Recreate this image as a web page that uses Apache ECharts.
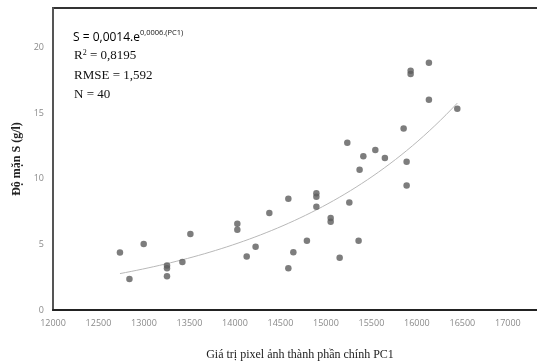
<!DOCTYPE html>
<html>
<head>
<meta charset="utf-8">
<script src="https://cdn.jsdelivr.net/npm/echarts@6/dist/echarts.min.js"></script>
<style>
  html, body { margin: 0; padding: 0; background: #fff; }
  #chart { width: 537px; height: 361px; }
</style>
</head>
<body>
<div id="chart"></div>
<script>
// PC1 pixel value and salinity S (g/l)
const pc1 = [12736, 12840, 12997, 13253, 13253, 13253, 13422, 13510, 14026, 14026,
  14129, 14227, 14378, 14587, 14587, 14642, 14791, 14895, 14895, 14895,
  15052, 15052, 15151, 15235, 15257, 15359, 15370, 15411, 15543, 15648,
  15854, 15887, 15887, 15931, 15931, 16132, 16132, 16444]
const salinity = [4.37, 2.37, 5.02, 3.38, 3.18, 2.57, 3.66, 5.78, 6.56, 6.11,
  4.07, 4.81, 7.38, 8.47, 3.18, 4.40, 5.27, 8.62, 8.90, 7.86,
  6.72, 7.00, 3.97, 12.73, 8.19, 5.27, 10.69, 11.70, 12.19, 11.58,
  13.82, 11.30, 9.49, 17.98, 18.22, 18.83, 16.01, 15.32]
const xTicks = [12000, 12500, 13000, 13500, 14000, 14500, 15000, 15500, 16000, 16500, 17000]
const yTicks = [0, 5, 10, 15, 20]

const points = pc1.map((x, i) => [x, salinity[i]])

// exponential trendline (least squares on ln S, like Excel)
function expTrend (data) {
  let n = data.length
  let sx = 0, sy = 0, sxx = 0, sxy = 0
  data.forEach(([x, y]) => {
    let ly = Math.log(y)
    sx += x; sy += ly; sxx += x * x; sxy += x * ly
  })
  let b = (n * sxy - sx * sy) / (n * sxx - sx * sx)
  let a = Math.exp((sy - b * sx) / n)
  let xMin = Math.min(...pc1)
  let xMax = Math.max(...pc1)
  let out = []
  for (let k = 0; k <= 60; k++) {
    let x = xMin + (xMax - xMin) * k / 60
    out.push([x, a * Math.exp(b * x)])
  }
  return out
}

const chart = echarts.init(document.getElementById('chart'))
const tickLabel = { color: '#8a8a8a', fontSize: 9, fontFamily: 'Open Sans' }
const serif = 'Liberation Serif'

chart.setOption({
  animation: false,
  grid: {
    left: 53,
    right: -10,
    top: 8,
    bottom: 51,
    outerBoundsMode: 'none',
    containLabel: false,
    show: true,
    borderColor: '#333',
    borderWidth: 2
  },
  xAxis: {
    type: 'value',
    min: 12000,
    max: 17430,
    interval: 500,
    splitLine: { show: false },
    axisTick: { show: false },
    axisLine: { lineStyle: { color: '#222', width: 2 } },
    axisLabel: Object.assign({
      margin: 9,
      formatter: v => xTicks.includes(v) ? String(v) : ''
    }, tickLabel),
    name: 'Giá trị pixel ảnh thành phần chính PC1',
    nameLocation: 'middle',
    nameGap: 39,
    nameTextStyle: { fontFamily: serif, fontSize: 12, color: '#222' }
  },
  yAxis: {
    type: 'value',
    min: 0,
    max: 23,
    interval: 5,
    splitLine: { show: false },
    axisTick: { show: false },
    axisLine: { show: true, lineStyle: { color: '#555', width: 2 } },
    axisLabel: Object.assign({
      margin: 9,
      formatter: v => yTicks.includes(v) ? String(v) : ''
    }, tickLabel),
    name: 'Độ mặn S (g/l)',
    nameLocation: 'middle',
    nameGap: 27,
    nameTextStyle: { fontFamily: serif, fontSize: 12, color: '#222', fontWeight: 'bold' }
  },
  graphic: [
    {
      type: 'text',
      left: 73,
      top: 29,
      style: {
        text: '{b|S = 0,0014.e}{s|0,0006.(PC1)}',
        rich: {
          b: { fontFamily: 'Open Sans', fontSize: 12, fill: '#000', verticalAlign: 'bottom' },
          s: { fontFamily: 'Open Sans', fontSize: 7.5, fill: '#111', verticalAlign: 'top', padding: [0, 0, 7, 0] }
        }
      }
    },
    {
      type: 'text',
      left: 74,
      top: 49,
      style: {
        text: '{t|R}{s|2}{t| = 0,8195}',
        rich: {
          t: { fontFamily: serif, fontSize: 13, fill: '#111' },
          s: { fontFamily: serif, fontSize: 8, fill: '#111', padding: [0, 0, 6, 0] }
        }
      }
    },
    {
      type: 'text',
      left: 74,
      top: 69,
      style: { text: 'RMSE = 1,592', font: '13px "Liberation Serif"', fill: '#111' }
    },
    {
      type: 'text',
      left: 74,
      top: 88,
      style: { text: 'N = 40', font: '13px "Liberation Serif"', fill: '#111' }
    }
  ],
  series: [
    {
      type: 'line',
      data: expTrend(points),
      showSymbol: false,
      smooth: false,
      silent: true,
      lineStyle: { color: '#b8b8b8', width: 1 },
      z: 1
    },
    {
      type: 'scatter',
      data: points,
      symbolSize: 6.5,
      itemStyle: { color: '#5c5c5c' },
      z: 2
    }
  ]
})
</script>
</body>
</html>
